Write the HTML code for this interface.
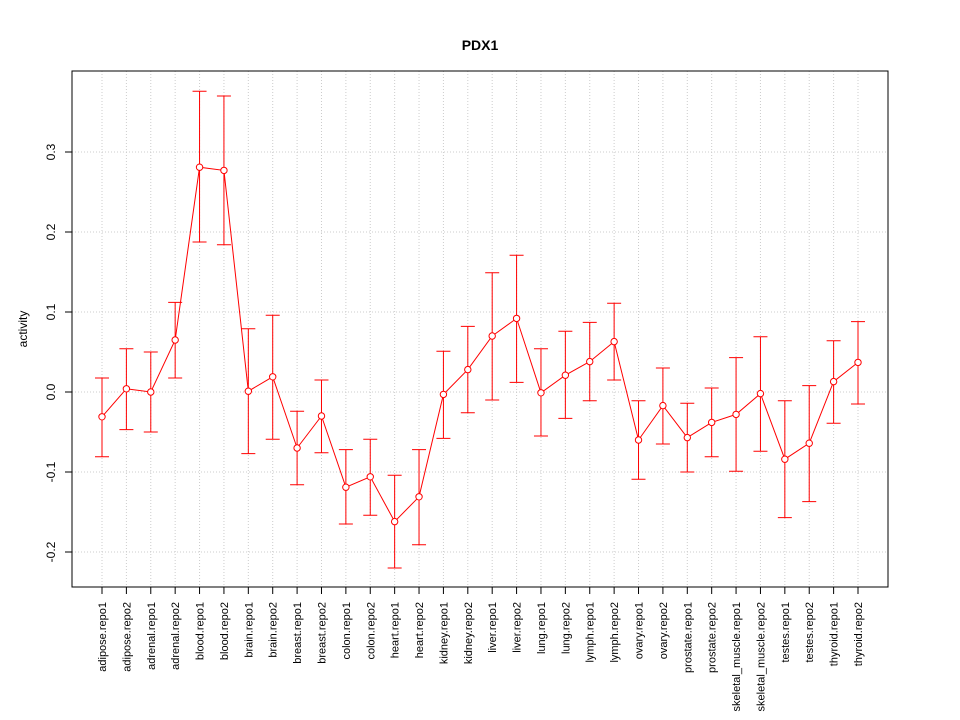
<!DOCTYPE html>
<html><head><meta charset="utf-8"><style>body{margin:0;background:#fff}svg{display:block;font-family:"Liberation Sans",sans-serif}</style></head>
<body>
<svg id="chart" width="960" height="720" xmlns="http://www.w3.org/2000/svg"></svg>
<script>
const categories=["adipose.repo1","adipose.repo2","adrenal.repo1","adrenal.repo2","blood.repo1","blood.repo2","brain.repo1","brain.repo2","breast.repo1","breast.repo2","colon.repo1","colon.repo2","heart.repo1","heart.repo2","kidney.repo1","kidney.repo2","liver.repo1","liver.repo2","lung.repo1","lung.repo2","lymph.repo1","lymph.repo2","ovary.repo1","ovary.repo2","prostate.repo1","prostate.repo2","skeletal_muscle.repo1","skeletal_muscle.repo2","testes.repo1","testes.repo2","thyroid.repo1","thyroid.repo2"];
const values=[-0.031,0.004,0.0,0.065,0.281,0.277,0.001,0.019,-0.07,-0.03,-0.119,-0.106,-0.162,-0.131,-0.003,0.028,0.07,0.092,-0.001,0.021,0.038,0.063,-0.06,-0.017,-0.057,-0.038,-0.028,-0.002,-0.084,-0.064,0.013,0.037];
const upper=[0.0175,0.054,0.05,0.112,0.376,0.37,0.079,0.096,-0.024,0.015,-0.072,-0.059,-0.104,-0.072,0.051,0.082,0.149,0.171,0.054,0.076,0.087,0.111,-0.011,0.03,-0.014,0.005,0.043,0.069,-0.011,0.008,0.064,0.088];
const lower=[-0.081,-0.047,-0.05,0.0175,0.1875,0.184,-0.077,-0.059,-0.116,-0.076,-0.165,-0.154,-0.22,-0.191,-0.058,-0.026,-0.01,0.012,-0.055,-0.033,-0.011,0.015,-0.109,-0.065,-0.1,-0.081,-0.099,-0.074,-0.157,-0.137,-0.039,-0.015];
const yTicks=[-0.2,-0.1,0.0,0.1,0.2,0.3];
const yTickLabels=["-0.2","-0.1","0.0","0.1","0.2","0.3"];

const svg=document.getElementById('chart');
const NS="http://www.w3.org/2000/svg";
const L=72,R=888,T=71,B=587;
const xs=i=>102+i*(858-102)/(categories.length-1);
const ys=v=>392-v*800;
function mk(tag,attrs,parent){const e=document.createElementNS(NS,tag);for(const k in attrs)e.setAttribute(k,attrs[k]);(parent||svg).appendChild(e);return e;}

const grid=mk('g',{});


categories.forEach((c,i)=>{mk('line',{x1:xs(i),x2:xs(i),y1:T,y2:B,stroke:'#ccc','stroke-dasharray':'1,2'},grid);});
yTicks.forEach(v=>{mk('line',{x1:L,x2:R,y1:ys(v),y2:ys(v),stroke:'#ccc','stroke-dasharray':'1,2'},grid);});

const frame=mk('rect',{x:L,y:T,width:R-L,height:B-T,fill:'none',stroke:'#000'});



const yax=mk('g',{});


yTicks.forEach((v,i)=>{const y=ys(v);mk('line',{x1:65,x2:L,y1:y,y2:y,stroke:'#000'},yax);
const t=mk('text',{x:0,y:0,transform:`translate(55,${y}) rotate(-90)`,'text-anchor':'middle','font-size':12},yax);t.textContent=yTickLabels[i];

});

const xax=mk('g',{});


categories.forEach((c,i)=>{const x=xs(i);mk('line',{x1:x,x2:x,y1:B,y2:594,stroke:'#000'},xax);
const t=mk('text',{x:0,y:0,transform:`translate(${x+4},602) rotate(-90)`,'text-anchor':'end','font-size':11},xax);t.textContent=c;

});

const series=mk('g',{});


categories.forEach((c,i)=>{const x=xs(i);
const eb=mk('path',{d:`M${x},${ys(upper[i])}V${ys(lower[i])}M${x-7},${ys(upper[i])}H${x+7}M${x-7},${ys(lower[i])}H${x+7}`,stroke:'#f00',fill:'none'},series);

});
const line=mk('polyline',{points:values.map((v,i)=>xs(i)+','+ys(v)).join(' '),fill:'none',stroke:'#f00'},series);


values.forEach((v,i)=>{const p=mk('circle',{cx:xs(i),cy:ys(v),r:3.2,fill:'#fff',stroke:'#f00'},series);

});

const title=mk('text',{x:480,y:50,'text-anchor':'middle','font-size':14,'font-weight':'bold'});title.textContent='PDX1';


const yt=mk('text',{x:0,y:0,transform:'translate(27,329) rotate(-90)','text-anchor':'middle','font-size':12});yt.textContent='activity';


</script>
</body></html>
